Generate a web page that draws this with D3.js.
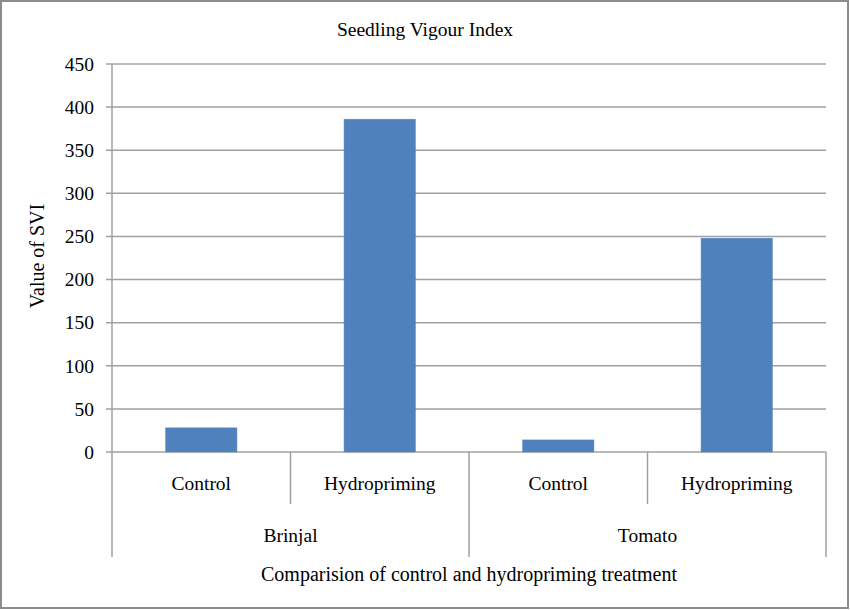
<!DOCTYPE html>
<html>
<head>
<meta charset="utf-8">
<script src="https://cdn.jsdelivr.net/npm/d3@7"></script>
<style>
  body { margin: 0; background: #fff; }
</style>
</head>
<body>
<div id="chart"></div>
<script>
const [width, height] = [850, 610];
const margin = {top: 64, right: 24, bottom: 158, left: 112};
const serif = "'Liberation Serif', 'Times New Roman', Times, serif";

// data
const groups = ["Brinjal", "Tomato"];
const treatments = ["Control", "Hydropriming"];
const sviValues = [28, 386, 14, 248];   // Brinjal C, Brinjal H, Tomato C, Tomato H
const yTicks = [0, 50, 100, 150, 200, 250, 300, 350, 400, 450];

const slots = [];
groups.forEach(g => treatments.forEach(t => slots.push({group: g, treatment: t})));
slots.forEach((d, i) => d.value = sviValues[i]);

const svg = d3.select("#chart")
  .append("svg")
  .attr("width", width)
  .attr("height", height)
  .style("font-family", serif);

// outer frame
svg.append("rect")
  .attr("x", 1).attr("y", 1)
  .attr("width", width - 3).attr("height", height - 3)
  .attr("fill", "none")
  .attr("stroke", "#8c8c8c")
  .attr("stroke-width", 2);

const innerW = width - margin.left - margin.right;
const innerH = height - margin.top - margin.bottom;

const g = svg.append("g")
  .attr("transform", `translate(${margin.left},${margin.top})`);

// scales
const xSlot = d3.scaleBand()
  .domain(d3.range(slots.length))
  .range([0, innerW])
  .padding(0);

const xBar = d3.scaleBand()
  .domain(d3.range(slots.length))
  .range([0, innerW])
  .paddingInner(0.6)
  .paddingOuter(0.3);

const xGroup = d3.scaleBand()
  .domain(groups)
  .range([0, innerW]);

const y = d3.scaleLinear()
  .domain([0, 450])
  .range([innerH, 0]);

const gridColor = "#a0a0a0";

// gridlines
g.selectAll(".grid")
  .data(yTicks)
  .enter()
  .append("line")
  .attr("class", "grid")
  .attr("x1", -6)
  .attr("x2", innerW)
  .attr("y1", d => y(d))
  .attr("y2", d => y(d))
  .attr("stroke", gridColor)
  .attr("stroke-width", 1.5);

// y axis line
g.append("line")
  .attr("x1", 0).attr("x2", 0)
  .attr("y1", 0).attr("y2", innerH + 105)
  .attr("stroke", gridColor)
  .attr("stroke-width", 1.5);

// y tick labels
g.selectAll(".ylab")
  .data(yTicks)
  .enter()
  .append("text")
  .attr("class", "ylab")
  .attr("x", -18)
  .attr("y", d => y(d))
  .attr("dy", "0.35em")
  .attr("text-anchor", "end")
  .style("font-size", "19.5px")
  .text(d => d);

// bars
g.selectAll(".bar")
  .data(slots)
  .enter()
  .append("rect")
  .attr("class", "bar")
  .attr("x", (d, i) => xBar(i))
  .attr("width", xBar.bandwidth())
  .attr("y", d => y(d.value))
  .attr("height", d => innerH - y(d.value))
  .attr("fill", "#4f81bd")
  .attr("stroke", "#5b8cc6")
  .attr("stroke-width", 0.5);

// category separators (inner)
g.selectAll(".sep")
  .data(d3.range(1, slots.length).filter(i => i % treatments.length !== 0))
  .enter()
  .append("line")
  .attr("class", "sep")
  .attr("x1", i => xSlot(i)).attr("x2", i => xSlot(i))
  .attr("y1", innerH).attr("y2", innerH + 52)
  .attr("stroke", gridColor)
  .attr("stroke-width", 1.5);

// group separators
g.selectAll(".gsep")
  .data(d3.range(1, groups.length + 1))
  .enter()
  .append("line")
  .attr("class", "gsep")
  .attr("x1", i => i * xGroup.step()).attr("x2", i => i * xGroup.step())
  .attr("y1", innerH).attr("y2", innerH + 105)
  .attr("stroke", gridColor)
  .attr("stroke-width", 1.5);

// category labels
g.selectAll(".clab")
  .data(slots)
  .enter()
  .append("text")
  .attr("class", "clab")
  .attr("x", (d, i) => xSlot(i) + xSlot.bandwidth() / 2)
  .attr("y", innerH + 38)
  .attr("text-anchor", "middle")
  .style("font-size", "19.5px")
  .text(d => d.treatment);

// group labels
g.selectAll(".glab")
  .data(groups)
  .enter()
  .append("text")
  .attr("class", "glab")
  .attr("x", d => xGroup(d) + xGroup.bandwidth() / 2)
  .attr("y", innerH + 90)
  .attr("text-anchor", "middle")
  .style("font-size", "19.5px")
  .text(d => d);

// x title
g.append("text")
  .attr("x", innerW / 2)
  .attr("y", innerH + 129)
  .attr("text-anchor", "middle")
  .style("font-size", "20px")
  .text("Comparision of control and hydropriming treatment");

// y title
svg.append("text")
  .attr("transform", `translate(44, 256) rotate(-90)`)
  .attr("text-anchor", "middle")
  .style("font-size", "20px")
  .text("Value of SVI");

// chart title
svg.append("text")
  .attr("x", width / 2)
  .attr("y", 36)
  .attr("text-anchor", "middle")
  .style("font-size", "19.5px")
  .text("Seedling Vigour Index");
</script>
</body>
</html>
